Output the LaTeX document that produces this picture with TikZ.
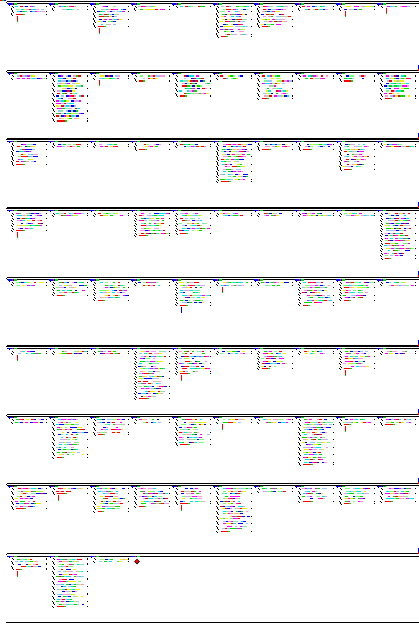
\documentclass[tikz,border=0pt]{standalone}
\usetikzlibrary{shapes.geometric}
% palette of the coloured code strips
\definecolor{pc1}{RGB}{255,0,0}
\definecolor{pc2}{RGB}{0,220,0}
\definecolor{pc3}{RGB}{0,0,255}
\definecolor{pc4}{RGB}{0,230,230}
\definecolor{pc5}{RGB}{255,0,255}
\definecolor{pc6}{RGB}{240,240,0}
\definecolor{pc7}{RGB}{255,150,220}
\definecolor{pc8}{RGB}{150,200,255}
\definecolor{pc9}{RGB}{120,255,120}

% one strip of coloured chunks: start x, y, width
\newcommand{\codeline}[3]{%
  \pgfmathtruncatemacro{\nseg}{max(1,#3/2.5)}%
  \foreach \sk in {1,...,\nseg}{%
    \pgfmathrandominteger{\cc}{1}{11}%
    \ifnum\cc<10
      \fill[pc\cc] ({#1+2.5*(\sk-1)},{#2-0.5}) rectangle ++(2.5,1.1);
    \fi
  }%
}

% one block: x, band top, number of lines, marker (0 none, 1 red drop, 2 blue drop)
\newcommand{\cellblock}[4]{%
  \begin{scope}[shift={(#1,#2)}]
    \fill[pc3] (0,2) rectangle (4,3.3);
    \fill[pc1] (4,2) rectangle (5,3.3);
    \fill[pc3] (5,2) rectangle (6,3.3);
    \fill[pc2] (6,2) rectangle (8.5,3.3);
    \fill[black] (1,3.3) rectangle ++(1,1);
    \foreach \i in {1,...,#3}{%
      \pgfmathsetmacro{\yy}{5.3+2.5*(\i-1)}%
      \pgfmathtruncatemacro{\odd}{mod(\i,2)}%
      \fill[black] ({3+\odd},{\yy-0.8}) rectangle ++(1,1.1);
      \fill[black] ({4+\odd},{\yy+0.3}) rectangle ++(1,1);
      \pgfmathtruncatemacro{\islast}{(\i==#3)*(#3>2)}%
      \ifnum\islast=1
        \pgfmathrandominteger{\wd}{4}{8}%
        \fill[pc1] (8,{\yy-0.5}) rectangle ++(\wd,1.1);
        \fill[pc2] ({8+\wd},{\yy-0.5}) rectangle ++(1.5,1.1);
      \else
        \pgfmathrandominteger{\st}{7}{10}%
        \pgfmathrandominteger{\wd}{18}{29}%
        \codeline{\st}{\yy}{\wd}
      \fi
      \pgfmathtruncatemacro{\rt}{(\i==1)+(mod(\i,3)==0)+(\i==#3)}%
      \ifnum\rt>0
        \fill[black] (37.5,{\yy-0.6}) rectangle ++(1.1,1.2);
      \fi
    }%
    \pgfmathsetmacro{\yend}{5.3+2.5*(#3-1)}%
    \ifnum#4=1
      \fill[pc1] (8.5,{\yend+1.5}) rectangle ++(1,5);
      \fill[pc2] (8.5,{\yend+6.5}) rectangle ++(1,1);
    \fi
    \ifnum#4=2
      \fill[pc3] (8.5,{\yend+1.5}) rectangle ++(1,6);
    \fi
  \end{scope}%
}

% a full band of ten blocks
\newcommand{\bandrow}[2]{%
  \foreach \n/\f [count=\cj from 0] in {#2}{%
    \cellblock{8+41*\cj}{#1}{\n}{\f}%
  }%
}

\begin{document}
\begin{tikzpicture}[x=1pt,y=-1pt]
  \useasboundingbox (0,0) rectangle (419,639);
  \pgfmathsetseed{2024}

  % corner pixels
  \fill[pc1] (0,0) rectangle (2,1.2);
  \fill[pc2] (2,0) rectangle (4,1.2);
  \fill[pc3] (4,0) rectangle (5.5,1.2);

  % double rules heading each band
  \foreach \t in {1.5,70.7,139,208,277.3,346,414.5,483.5,553.7}{
    \draw[line width=1.1pt] (7,\t) -- (419,\t);
    \draw[line width=0.8pt] (7,\t+2.2) -- (419,\t+2.2);
    \fill[black] (5.5,\t+0.3) rectangle ++(1,1);
  }
  % closing rule
  \draw[line width=1pt] (7,622.3) -- (419,622.3);
  \fill[black] (5.5,622.3) rectangle ++(1,1);

  % edge ticks at the right margin
  \foreach \t in {70.7,139,208,277.3,346,414.5,483.5,553.7}{
    \fill[pc3] (417.8,\t-6) rectangle (419,\t-2);
    \fill[pc1] (417.8,\t-2) rectangle (419,\t);
  }

  \bandrow{1.5}{4/1,2/0,9/1,2/0,1/0,13/0,9/0,2/0,2/1,1/1}
  \bandrow{70.7}{2/0,19/0,2/1,3/0,9/0,2/0,10/0,2/0,3/0,10/0}
  \bandrow{139}{9/0,2/0,2/0,3/0,2/0,16/0,3/0,3/0,11/0,2/0}
  \bandrow{208}{8/1,2/0,2/0,10/0,9/0,2/0,2/0,2/0,2/0,19/0}
  \bandrow{277.3}{2/0,6/0,8/0,2/0,10/2,2/1,2/0,10/0,8/0,2/0}
  \bandrow{346}{2/1,2/0,2/0,20/0,10/1,2/0,8/0,2/0,8/1,2/0}
  \bandrow{414.5}{2/0,16/0,7/0,2/0,11/0,2/1,2/0,19/0,3/1,3/0}
  \bandrow{483.5}{9/0,3/1,10/0,8/0,7/1,18/0,2/0,6/0,7/0,6/0}
  \bandrow{553.7}{5/1,20/0,2/0}

  % last header with its marker
  \fill[pc3] (131,555.7) rectangle (135,557);
  \fill[pc1] (135,555.7) rectangle (136,557);
  \fill[pc2] (137,555.7) rectangle (139.5,557);
  \node (mk) [diamond, draw=black, fill=pc1, inner sep=0pt, minimum size=5pt, line width=0.5pt] at (137,561.5) {};
\end{tikzpicture}
\end{document}
